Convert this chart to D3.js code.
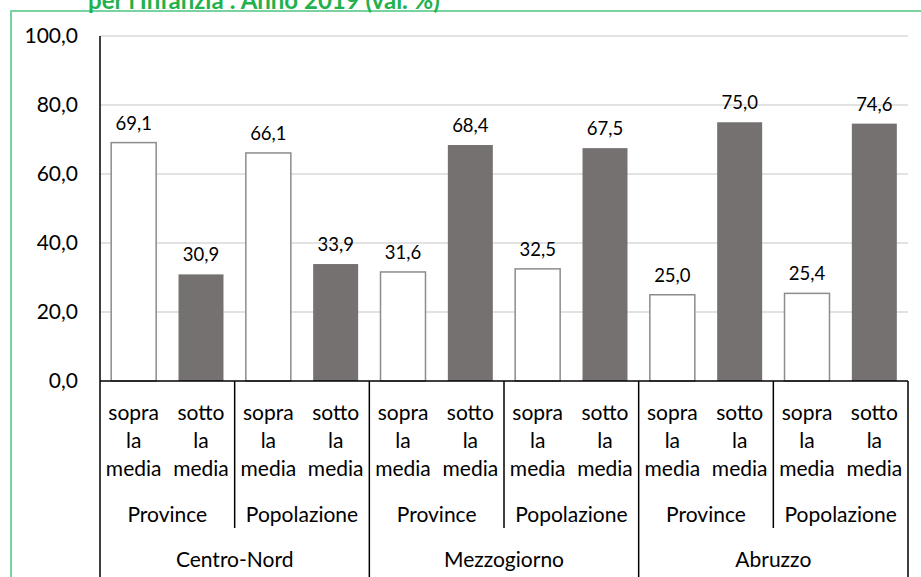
<!DOCTYPE html>
<html><head><meta charset="utf-8">
<script src="https://cdn.jsdelivr.net/npm/d3@7"></script>
<style>body{margin:0;background:#fff;}svg{display:block;font-family:Lato,"Open Sans",sans-serif;}</style>
</head><body><svg id="c" width="921" height="577"></svg>
<script>
const groups = ["Centro-Nord","Mezzogiorno","Abruzzo"];
const subgroups = ["Province","Popolazione"];
const levels = ["sopra la media","sotto la media"];
const values = [69.1,30.9,66.1,33.9, 31.6,68.4,32.5,67.5, 25.0,75.0,25.4,74.6];
const yTicks = [0,20,40,60,80,100];
const title = "per l'Infanzia : Anno 2019 (val. %)";

const cats = [];
groups.forEach((g,gi)=>subgroups.forEach((s,si)=>levels.forEach((l,li)=>cats.push({g,s,l,key:gi+"-"+si+"-"+li,li}))));
cats.forEach((c,i)=>c.v=values[i]);

const svg = d3.select("#c");
const L=100,R=908,T=36,B=381;
const x = d3.scaleBand().domain(cats.map(c=>c.key)).range([L,R]).paddingInner(0.332).paddingOuter(0.166);
const y = d3.scaleLinear().domain([0,100]).range([B,T]);
const step = x.step();
const fmt = v=>d3.format(".1f")(v).replace(".",",");

// frame
svg.append("rect").attr("x",11).attr("y",11).attr("width",930).attr("height",590)
  .attr("fill","none").attr("stroke","#79d3a0").attr("stroke-width",2);
svg.append("text").attr("x",88).attr("y",9).attr("fill","#22b14c").attr("font-weight","bold")
  .attr("font-size",24).text(title);

// grid
svg.append("g").selectAll("line").data(yTicks.filter(d=>d>0)).join("line")
  .attr("x1",L).attr("x2",R).attr("y1",d=>y(d)).attr("y2",d=>y(d))
  .attr("stroke","#d9d9d9").attr("stroke-width",1.3);

// y axis labels
const ya = svg.append("g").attr("transform",`translate(${L},0)`)
  .call(d3.axisLeft(y).tickValues(yTicks).tickFormat(fmt).tickSize(0).tickPadding(22));
ya.select(".domain").remove();
ya.selectAll("text").attr("font-size",21).attr("font-family","Lato,sans-serif").attr("fill","#000");

// bars
svg.append("g").selectAll("rect").data(cats).join("rect")
  .attr("x",d=>x(d.key)).attr("width",x.bandwidth())
  .attr("y",d=>y(d.v)).attr("height",d=>y(0)-y(d.v))
  .attr("fill",d=>d.li===0?"#fff":"#767171")
  .attr("stroke",d=>d.li===0?"#8c8c8c":"none").attr("stroke-width",1.5);

// value labels
svg.append("g").selectAll("text").data(cats).join("text")
  .attr("x",d=>x(d.key)+x.bandwidth()/2).attr("y",d=>y(d.v)-13)
  .attr("text-anchor","middle").attr("font-size",18.5).text(d=>fmt(d.v));

// axes lines
svg.append("line").attr("x1",L).attr("x2",R).attr("y1",B).attr("y2",B).attr("stroke","#000").attr("stroke-width",1.5);
svg.append("line").attr("x1",L).attr("x2",L).attr("y1",T).attr("y2",B).attr("stroke","#000").attr("stroke-width",1.5);

// separators
const sep = svg.append("g").attr("stroke","#000").attr("stroke-width",1.5);
for(let i=0;i<=cats.length;i+=2){
  const xx = L + i*step;
  const bottom = (i%4===0)?577:528;
  sep.append("line").attr("x1",xx).attr("x2",xx).attr("y1",B).attr("y2",bottom);
}

// category labels
const lab = svg.append("g").attr("font-size",21).attr("text-anchor","middle");
cats.forEach(c=>{
  const cx = x(c.key)+x.bandwidth()/2;
  c.l.split(" ").forEach((w,wi)=>{
    lab.append("text").attr("x",cx).attr("y",420+wi*28).text(w);
  });
});
groups.forEach((g,gi)=>{
  subgroups.forEach((s,si)=>{
    const cx = L + (gi*4+si*2+1)*step;
    lab.append("text").attr("x",cx).attr("y",522).text(s);
  });
  lab.append("text").attr("x",L+(gi*4+2)*step).attr("y",567).text(g);
});
</script></body></html>
